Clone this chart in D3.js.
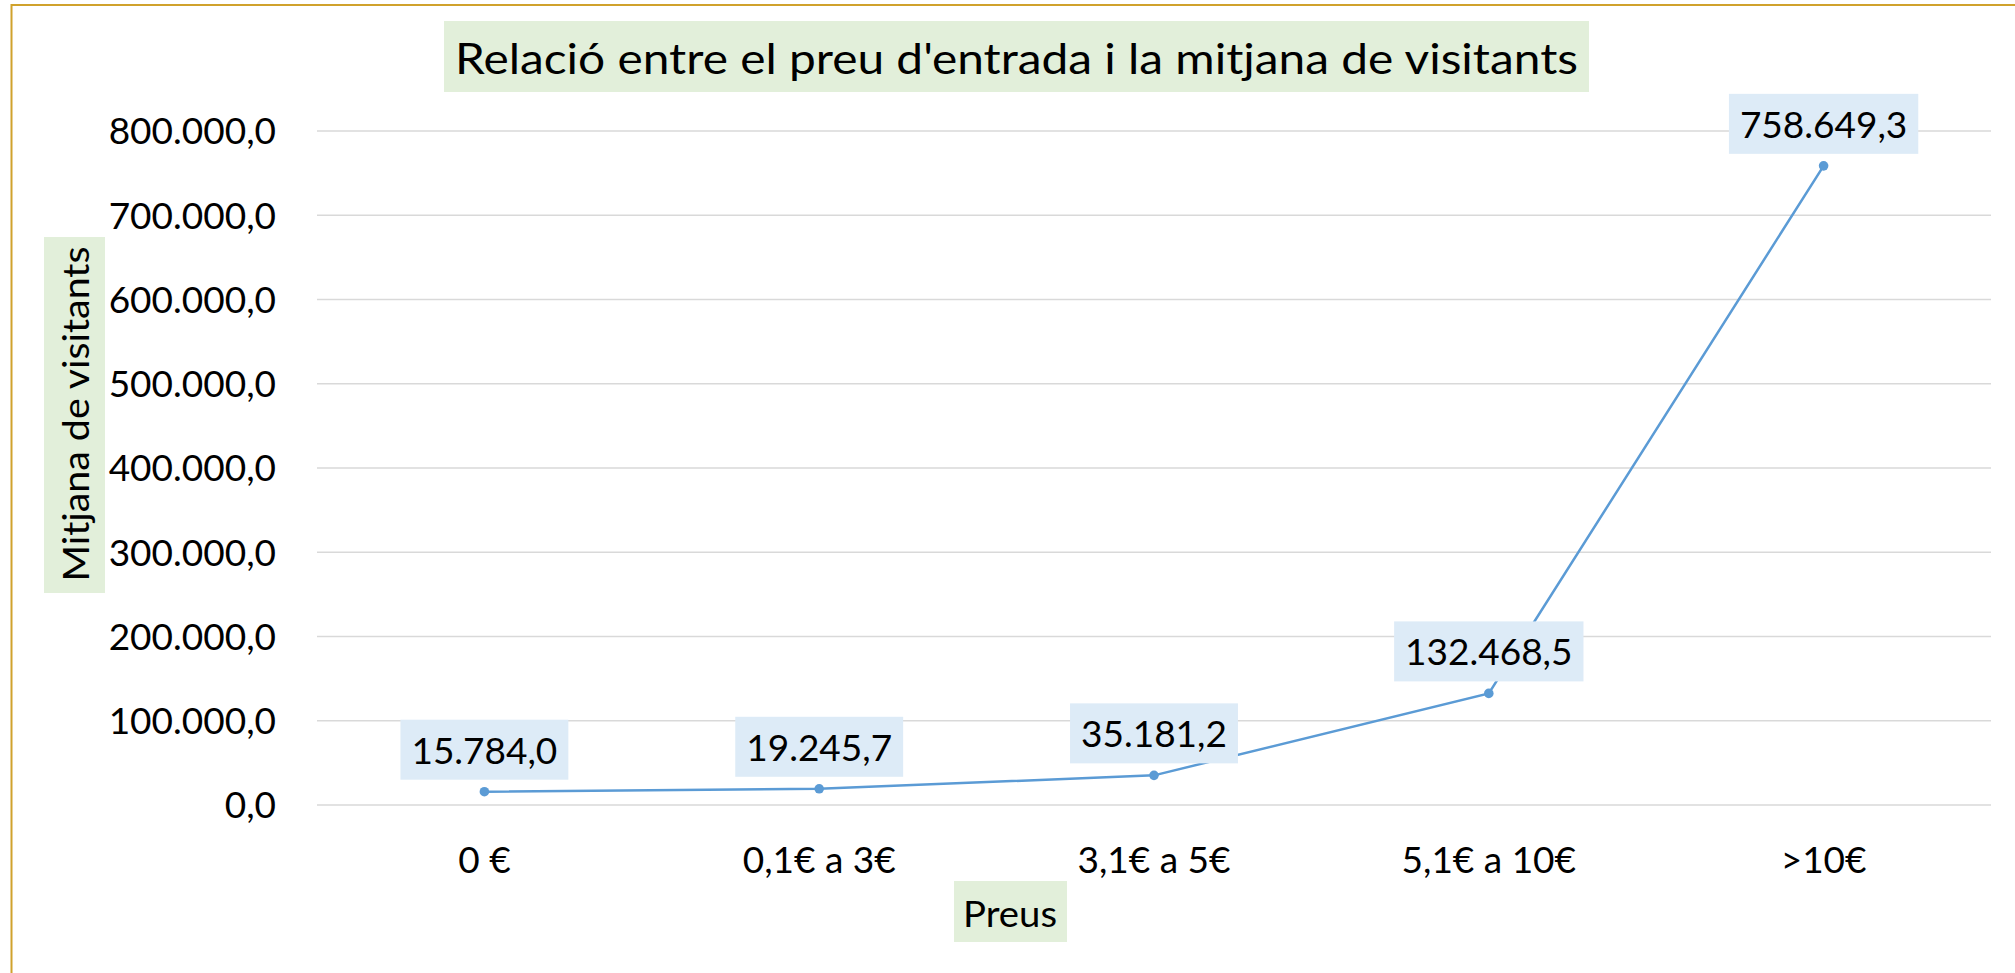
<!DOCTYPE html>
<html lang="ca">
<head>
  <meta charset="UTF-8" />
  <title>Relació entre el preu d'entrada i la mitjana de visitants</title>
  <script src="https://d3js.org/d3.v7.min.js"></script>
  <style>
    body { margin:0; padding:0; background:#fff; }
    svg { display:block; font-family:Lato, "Open Sans", sans-serif; }
  </style>
</head>
<body>
  <svg width="2015" height="973"></svg>
  <script>
  (function(){
    const categories = ["0 €", "0,1€ a 3€", "3,1€ a 5€", "5,1€ a 10€", ">10€"];
    const values     = [15784.0, 19245.7, 35181.2, 132468.5, 758649.3];
    const yTicks     = [0, 100000, 200000, 300000, 400000, 500000, 600000, 700000, 800000];
    const title  = "Relació entre el preu d'entrada i la mitjana de visitants";
    const yTitle = "Mitjana de visitants";
    const xTitle = "Preus";

    const W = 2015, H = 973;
    const plot = { left:317, right:1991, top:131, bottom:805 };
    const FS = 37;

    const loc = d3.formatLocale({ decimal:",", thousands:".", grouping:[3], currency:["","€"] });
    const fmt = loc.format(",.1f");

    const svg = d3.select("svg");

    // chart border (gold, only top/left visible)
    svg.append("rect")
      .attr("x", 11.5).attr("y", 5)
      .attr("width", W + 20).attr("height", H + 20)
      .attr("fill", "#fff").attr("stroke", "#d0a22c").attr("stroke-width", 2);

    const x = d3.scaleBand().domain(categories).range([plot.left, plot.right]);
    const y = d3.scaleLinear().domain([0, 800000]).range([plot.bottom, plot.top]);

    // gridlines
    svg.append("g").selectAll("line").data(yTicks).enter().append("line")
      .attr("x1", plot.left).attr("x2", plot.right)
      .attr("y1", d => y(d)).attr("y2", d => y(d))
      .attr("stroke", "#d9d9d9").attr("stroke-width", 1.6);

    // y tick labels
    const yAxis = d3.axisLeft(y).tickValues(yTicks).tickFormat(fmt).tickSize(0).tickPadding(0);
    const gy = svg.append("g").attr("transform", `translate(276,0)`).call(yAxis);
    gy.select(".domain").remove();
    gy.selectAll("text").attr("font-size", FS).attr("font-family", "Lato").attr("fill", "#000")
      .attr("dy", "0.35em");

    // x tick labels
    const xAxis = d3.axisBottom(x).tickSize(0).tickPadding(0);
    const gx = svg.append("g").attr("transform", `translate(0,${plot.bottom})`).call(xAxis);
    gx.select(".domain").remove();
    gx.selectAll("text").attr("font-size", FS).attr("font-family", "Lato").attr("fill", "#000")
      .attr("dy", null).attr("y", 68);

    // line + markers
    const cx = d => x(d) + x.bandwidth() / 2;
    const pts = categories.map((c, i) => ({ c, v: values[i] }));
    const line = d3.line().x(d => cx(d.c)).y(d => y(d.v));
    svg.append("path").datum(pts).attr("d", line)
      .attr("fill", "none").attr("stroke", "#5b9bd5").attr("stroke-width", 2.5);
    svg.append("g").selectAll("circle").data(pts).enter().append("circle")
      .attr("cx", d => cx(d.c)).attr("cy", d => y(d.v)).attr("r", 4.8)
      .attr("fill", "#5b9bd5");

    // data labels
    const lab = svg.append("g").selectAll("g").data(pts).enter().append("g");
    lab.each(function(d){
      const g = d3.select(this);
      const px = cx(d.c), py = y(d.v);
      const bottom = py - 12, h = 60;
      const rect = g.append("rect").attr("fill", "#ddebf7");
      const t = g.append("text").text(fmt(d.v))
        .attr("x", px).attr("y", bottom - 16)
        .attr("text-anchor", "middle").attr("font-size", FS).attr("fill", "#000");
      const w = t.node().getComputedTextLength() + 22;
      rect.attr("x", px - w/2).attr("y", bottom - h).attr("width", w).attr("height", h);
    });

    // boxed text helper
    function boxed(txt, size, bx, by, bw, bh, cxp, base, len, rotate) {
      const g = svg.append("g");
      g.append("rect").attr("x", bx).attr("y", by).attr("width", bw).attr("height", bh)
        .attr("fill", "#e2efda");
      const t = g.append("text").text(txt).attr("font-size", size).attr("fill", "#000")
        .attr("text-anchor", "middle")
        .attr("textLength", len).attr("lengthAdjust", "spacingAndGlyphs");
      if (rotate) t.attr("transform", `translate(${base},${cxp}) rotate(-90)`);
      else t.attr("x", cxp).attr("y", base);
      return t;
    }

    boxed(title, 43, 444, 21, 1145, 71, 1016.5, 73.5, 1123, false);
    boxed(yTitle, FS, 44, 237, 61, 356, 414, 88.5, 335, true);
    boxed(xTitle, FS, 954, 881, 113, 61, 1010, 927, 94, false);
  })();
  </script>
</body>
</html>
